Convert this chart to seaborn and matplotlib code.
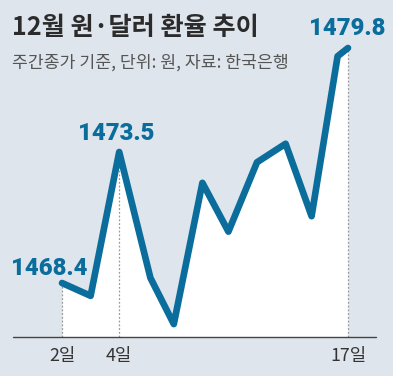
import numpy as np
import seaborn as sns
import matplotlib.pyplot as plt

# 12월 주간종가 (원), 거래일 기준
days = [2, 3, 4, 5, 8, 9, 10, 11, 12, 15, 16, 17]
x_pos = [0, 1.1, 2.2, 3.4, 4.3, 5.4, 6.4, 7.5, 8.6, 9.6, 10.6, 11.0]
rates = [1468.4, 1467.9, 1473.5, 1468.6, 1466.8, 1472.3, 1470.4, 1473.1, 1474.0, 1471.0, 1479.3, 1479.8]
tick_days = [2, 4, 17]
labeled_days = [2, 4, 17]

title = '12월 원·달러 환율 추이'
subtitle = '주간종가 기준, 단위: 원, 자료: 한국은행'

BG = '#dee5ec'
BLUE = '#0a6d9c'

# the graphic squeezes the upper part of the value axis, so use a piecewise scale
k_lo = 131 / 5.1
k_hi = 104 / 6.3
anchor_v = [1400, 1468.4, 1473.5, 1479.8, 1560]
anchor_u = [54 - 68.4 * k_lo, 54, 185, 289, 289 + 80.2 * k_hi]


def fwd(v):
    return np.interp(np.asarray(v, dtype=float), anchor_v, anchor_u)


def inv(u):
    return np.interp(np.asarray(u, dtype=float), anchor_u, anchor_v)


sns.set_style('white')
plt.rcParams['font.family'] = ['Noto Sans CJK KR', 'DejaVu Sans']

fig = plt.figure(figsize=(3.93, 3.76), dpi=100, facecolor=BG)
ax = fig.add_axes([13 / 393, 39 / 376, 363 / 393, 297 / 376])
ax.set_facecolor(BG)
ax.set_yscale('function', functions=(fwd, inv))
y_bottom = float(inv(0))
ax.set_ylim(y_bottom, float(inv(297)))
ax.set_xlim(-1.885, 12.077)

ax.fill_between(x_pos, rates, y_bottom, color='white', lw=0, zorder=1)

for d in labeled_days:
    i = days.index(d)
    ax.vlines(x_pos[i], y_bottom, rates[i], colors='#9a9a9a',
              linestyles=(0, (1.5, 1.5)), lw=0.9, zorder=2)

sns.lineplot(x=x_pos, y=rates, ax=ax, color=BLUE, lw=4.8, sort=False,
             solid_capstyle='round', solid_joinstyle='round', zorder=3)

ax.axhline(y_bottom, color='#444444', lw=1.0, clip_on=False, zorder=4)

# value labels
offsets = {2: (-9, 5.8), 4: (-2.2, 8.6), 17: (-0.7, 9.4)}
for d in labeled_days:
    i = days.index(d)
    ax.annotate(f'{rates[i]:.1f}', (x_pos[i], rates[i]), xytext=offsets[d],
                textcoords='offset points', ha='center', va='baseline',
                fontsize=17.2, fontweight='heavy', color=BLUE,
                family=['Roboto', 'DejaVu Sans'], annotation_clip=False, zorder=5)

ax.set_xticks([x_pos[days.index(d)] for d in tick_days])
ax.set_xticklabels([f'{d}일' for d in tick_days])
ax.tick_params(axis='x', length=0, pad=7, labelsize=12.8, colors='#333333')
ax.set_yticks([])
ax.set_xlabel('')
ax.set_ylabel('')
for s in ax.spines.values():
    s.set_visible(False)

fig.text(12 / 393, 1 - 14 / 376, title, ha='left', va='top', fontsize=18.1,
         fontweight='bold', color='#2b2b2b')
fig.text(12 / 393, 1 - 54 / 376, subtitle, ha='left', va='top', fontsize=12.4,
         color='#555555')

fig.savefig('out.png', dpi=100, facecolor=fig.get_facecolor())
